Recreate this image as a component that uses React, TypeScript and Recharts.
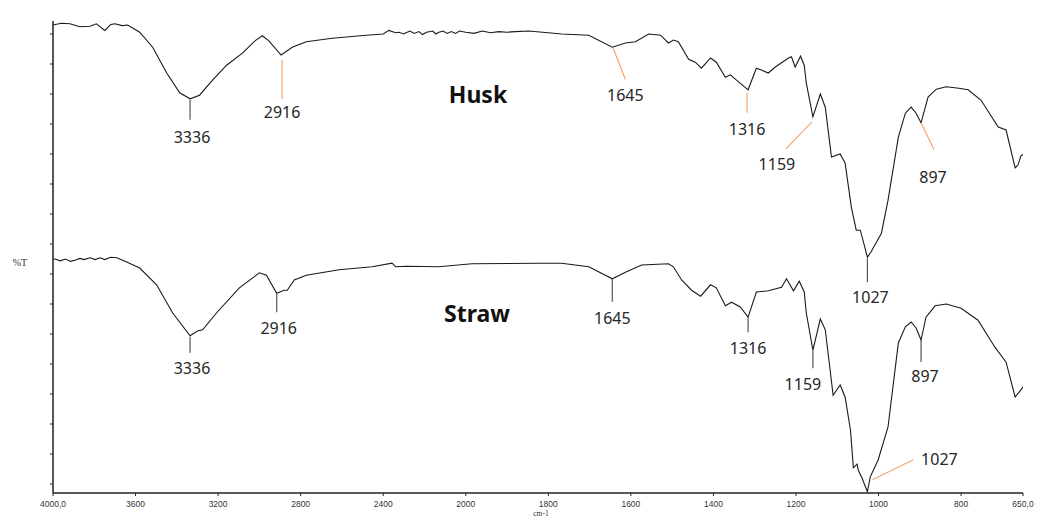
import { LineChart, Line, XAxis, YAxis, ReferenceDot } from 'recharts'

// FTIR spectra, %T (offset, arbitrary units) vs wavenumber (cm-1)
const huskWavenumber = [
  4000, 3960, 3918, 3870, 3821, 3790, 3749, 3720, 3700, 3665, 3638, 3580, 3517, 3449, 3386, 3336,
  3290, 3227, 3159, 3082, 3020, 2986, 2955, 2895, 2841, 2773, 2647, 2483, 2400, 2372, 2340, 2324,
  2300, 2290, 2270, 2250, 2227, 2210, 2190, 2160, 2145, 2130, 2110, 2090, 2070, 2050, 2030, 2000,
  1980, 1960, 1940, 1920, 1900, 1880, 1848, 1800, 1768, 1702, 1645, 1613,
  1589, 1557, 1528, 1509, 1497, 1485, 1460, 1444, 1429, 1407, 1393, 1371, 1359, 1344, 1316, 1296,
  1284, 1267, 1250, 1218, 1211, 1202, 1189, 1180, 1175, 1159, 1141, 1129, 1114, 1093, 1081, 1066,
  1054, 1044, 1027, 1018, 993, 977, 952, 935, 921, 909, 897, 880, 860, 836, 810, 783,
  752, 710, 691, 669, 662, 655, 650,
]
const huskT = [
  76.5, 76.8, 76.7, 76.2, 76.3, 76.7, 75.6, 76.6, 76.7, 76.4, 76.5, 75.3, 72.8, 68.5, 65.2, 64.2,
  64.8, 67.3, 69.8, 71.8, 73.9, 74.7, 73.9, 71.5, 72.8, 73.7, 74.3, 74.8, 75.0, 75.6, 75.2, 75.3,
  75.0, 75.2, 75.5, 75.1, 75.4, 74.9, 75.3, 75.5, 75.0, 75.3, 75.5, 75.1, 75.4, 75.1, 75.5, 75.3,
  75.1, 75.5, 75.2, 75.4, 75.3, 75.4, 75.5, 75.2, 75.0, 74.8, 72.8, 73.5,
  73.7, 75.0, 74.8, 73.5, 74.0, 73.7, 70.8, 70.3, 69.3, 71.0, 70.3, 67.8, 68.2, 67.3, 65.7, 69.3,
  69.0, 68.5, 69.5, 71.0, 71.2, 69.5, 71.3, 69.8, 66.8, 61.2, 65.0, 62.8, 54.5, 55.0, 53.5, 46.2,
  42.3, 42.3, 37.8, 38.7, 41.8, 47.3, 57.8, 61.8, 62.8, 61.8, 60.2, 64.5, 65.8, 66.2, 66.0, 65.7,
  64.0, 59.5, 59.0, 52.7, 53.2, 54.7, 54.9,
]

const strawWavenumber = [
  4000, 3990, 3965, 3940, 3915, 3894, 3870, 3850, 3820, 3797, 3770, 3750, 3720, 3691, 3643, 3580,
  3498, 3420, 3336, 3300, 3275, 3208, 3097, 3000, 2966, 2916, 2880, 2865, 2831, 2773, 2614, 2454,
  2357, 2340, 2290, 2130, 1985, 1823, 1768, 1702,
  1645, 1613, 1574, 1509, 1497, 1477, 1453, 1431, 1407, 1393, 1371, 1356, 1335, 1316, 1296, 1267,
  1235, 1223, 1206, 1192, 1180, 1175, 1159, 1141, 1129, 1110, 1093, 1081, 1068, 1061, 1052, 1049,
  1040, 1027, 1020, 1001, 977, 952, 935, 921, 909, 897, 885, 863, 836, 800, 759, 718,
  691, 669, 655, 650,
]
const strawT = [
  37.5, 37.5, 37.2, 37.5, 37.1, 37.3, 37.6, 37.4, 37.7, 37.4, 37.7, 37.4, 37.8, 37.7, 37.0, 36.0,
  33.2, 28.5, 24.7, 25.5, 25.7, 28.5, 32.7, 35.2, 34.8, 31.8, 32.3, 32.3, 34.0, 34.8, 35.7, 36.2,
  36.8, 36.2, 36.3, 36.2, 36.7, 36.8, 36.8, 36.2,
  34.2, 35.3, 36.5, 36.7, 36.2, 34.0, 32.3, 31.3, 33.2, 32.7, 29.7, 30.3, 29.5, 27.8, 32.0, 32.2,
  32.8, 34.2, 32.2, 33.8, 32.0, 28.5, 22.3, 27.5, 25.7, 14.8, 16.5, 14.5, 9.0, 2.7, 3.3, 2.3,
  1.0, -1.3, 1.2, 4.0, 9.5, 23.5, 26.2, 27.0, 26.0, 24.0, 27.8, 29.7, 30.0, 29.3, 27.3, 22.8,
  20.3, 14.5, 15.7, 16.2,
]

const xTicks = [4000, 3600, 3200, 2800, 2400, 2000, 1800, 1600, 1400, 1200, 1000, 800, 650]
const yTicks = [0, 5, 10, 15, 20, 25, 30, 35, 40, 45, 50, 55, 60, 65, 70, 75]

// peak labels and the wavenumber where each marker meets its trace
const huskPeaks = ['3336', '2916', '1645', '1316', '1159', '1027', '897']
const huskPeakAt = [3336, 2895, 1645, 1316, 1159, 1027, 897]
const strawPeaks = ['3336', '2916', '1645', '1316', '1159', '1027', '897']
const strawPeakAt = [3336, 2916, 1645, 1316, 1159, 1027, 897]

const GRAY = '#555'
const ORANGE = '#f7a46c'

// leader line (x1,y1)->(x2,y2) and label centre (tx,ty), in px from the peak
const huskLeaders = [
  { x1: 0, y1: 1, x2: 0, y2: 21, tx: 2, ty: 38, c: GRAY },
  { x1: 1, y1: 5, x2: 1, y2: 44, tx: 1, ty: 57, c: ORANGE },
  { x1: 1, y1: 1, x2: 13, y2: 32, tx: 13, ty: 48, c: ORANGE },
  { x1: -1, y1: 3, x2: -1, y2: 23, tx: -1, ty: 39, c: ORANGE },
  { x1: -1, y1: 5, x2: -27, y2: 32, tx: -36, ty: 47, c: ORANGE },
  { x1: 0, y1: 1, x2: 0, y2: 25, tx: 3, ty: 40, c: GRAY },
  { x1: 0, y1: 0, x2: 13, y2: 27, tx: 12, ty: 54, c: ORANGE },
]
const strawLeaders = [
  { x1: 0, y1: 1, x2: 0, y2: 17, tx: 2, ty: 32, c: GRAY },
  { x1: 0, y1: 0, x2: 0, y2: 19, tx: 2, ty: 35, c: GRAY },
  { x1: 0, y1: 0, x2: 0, y2: 23, tx: 0, ty: 39, c: GRAY },
  { x1: 0, y1: 0, x2: 0, y2: 15, tx: 0, ty: 31, c: GRAY },
  { x1: 0, y1: 0, x2: 0, y2: 18, tx: -10, ty: 34, c: GRAY },
  { x1: 5, y1: -12, x2: 46, y2: -32, tx: 72, ty: -33, c: ORANGE },
  { x1: 0, y1: 0, x2: 0, y2: 22, tx: 4, ty: 36, c: GRAY },
]

// the axis changes scale at 2000 cm-1 (twice as wide below it)
const pos = (w: number) => (w >= 2000 ? 4000 - w : 2000 + (2000 - w) * 2)
const fromPos = (p: number) => (p <= 2000 ? 4000 - p : 2000 - (p - 2000) / 2)

const toRows = (ws: number[], ts: number[]) => ws.map((w, i) => ({ x: pos(w), t: ts[i] }))
const huskData = toRows(huskWavenumber, huskT)
const strawData = toRows(strawWavenumber, strawT)

const FONT = '"Noto Sans", "Open Sans", sans-serif'

function XTick({ x, y, payload }: any) {
  const w = Math.round(fromPos(payload.value))
  const text = w === 4000 || w === 650 ? `${w},0` : String(w)
  return (
    <text x={x} y={y + 9} textAnchor="middle" fontSize={8.5} fontFamily="Liberation Sans, sans-serif" fill="#333">
      {text}
    </text>
  )
}

function leader(spec: (typeof huskLeaders)[number], text: string) {
  return (p: any) => (
    <g>
      <line x1={p.cx + spec.x1} y1={p.cy + spec.y1} x2={p.cx + spec.x2} y2={p.cy + spec.y2} stroke={spec.c} strokeWidth={1.2} />
      <text
        x={p.cx + spec.tx}
        y={p.cy + spec.ty}
        textAnchor="middle"
        dominantBaseline="central"
        fontSize={16}
        fontFamily={FONT}
        fill="#262626"
      >
        {text}
      </text>
    </g>
  )
}

function peakDots(
  data: { x: number; t: number }[],
  ws: number[],
  labels: string[],
  at: number[],
  leaders: typeof huskLeaders,
  key: string,
) {
  return labels.map((label, i) => {
    const idx = ws.indexOf(at[i])
    return (
      <ReferenceDot
        key={`${key}-${label}`}
        x={data[idx].x}
        y={data[idx].t}
        r={0}
        ifOverflow="visible"
        shape={leader(leaders[i], label)}
      />
    )
  })
}

const centered = {
  position: 'absolute' as const,
  transform: 'translate(-50%, -50%)',
  lineHeight: 1,
  whiteSpace: 'nowrap' as const,
}
const titleStyle = { ...centered, fontFamily: FONT, fontWeight: 700, fontSize: 23, color: '#111' }
const axisNameStyle = { ...centered, fontFamily: '"Liberation Serif", serif', color: '#333' }

export default function App() {
  return (
    <div style={{ position: 'absolute', left: 0, top: 0, width: 1043, height: 520, background: '#fff' }}>
      <LineChart width={1043} height={520} margin={{ top: 21, right: 20, bottom: 0, left: 0 }}>
        <XAxis
          type="number"
          dataKey="x"
          domain={[0, 4700]}
          ticks={xTicks.map(pos)}
          tick={<XTick />}
          tickSize={3}
          height={27}
          allowDataOverflow
          axisLine={{ stroke: '#222', strokeWidth: 1.5 }}
          tickLine={{ stroke: '#222' }}
        />
        <YAxis
          type="number"
          domain={[-1.5, 77.1667]}
          ticks={yTicks}
          tick={() => <g />}
          tickSize={3}
          width={53}
          allowDataOverflow
          axisLine={{ stroke: '#222', strokeWidth: 1.5 }}
          tickLine={{ stroke: '#222' }}
        />
        <Line data={huskData} dataKey="t" type="linear" stroke="#1a1a1a" strokeWidth={1.1} dot={false} isAnimationActive={false} />
        <Line data={strawData} dataKey="t" type="linear" stroke="#1a1a1a" strokeWidth={1.1} dot={false} isAnimationActive={false} />
        {peakDots(huskData, huskWavenumber, huskPeaks, huskPeakAt, huskLeaders, 'husk')}
        {peakDots(strawData, strawWavenumber, strawPeaks, strawPeakAt, strawLeaders, 'straw')}
      </LineChart>
      <div style={{ ...titleStyle, left: 478, top: 94 }}>Husk</div>
      <div style={{ ...titleStyle, left: 477, top: 313 }}>Straw</div>
      <div style={{ ...axisNameStyle, left: 20, top: 263, fontSize: 10 }}>%T</div>
      <div style={{ ...axisNameStyle, left: 541, top: 514, fontSize: 7.5 }}>cm-1</div>
    </div>
  )
}
